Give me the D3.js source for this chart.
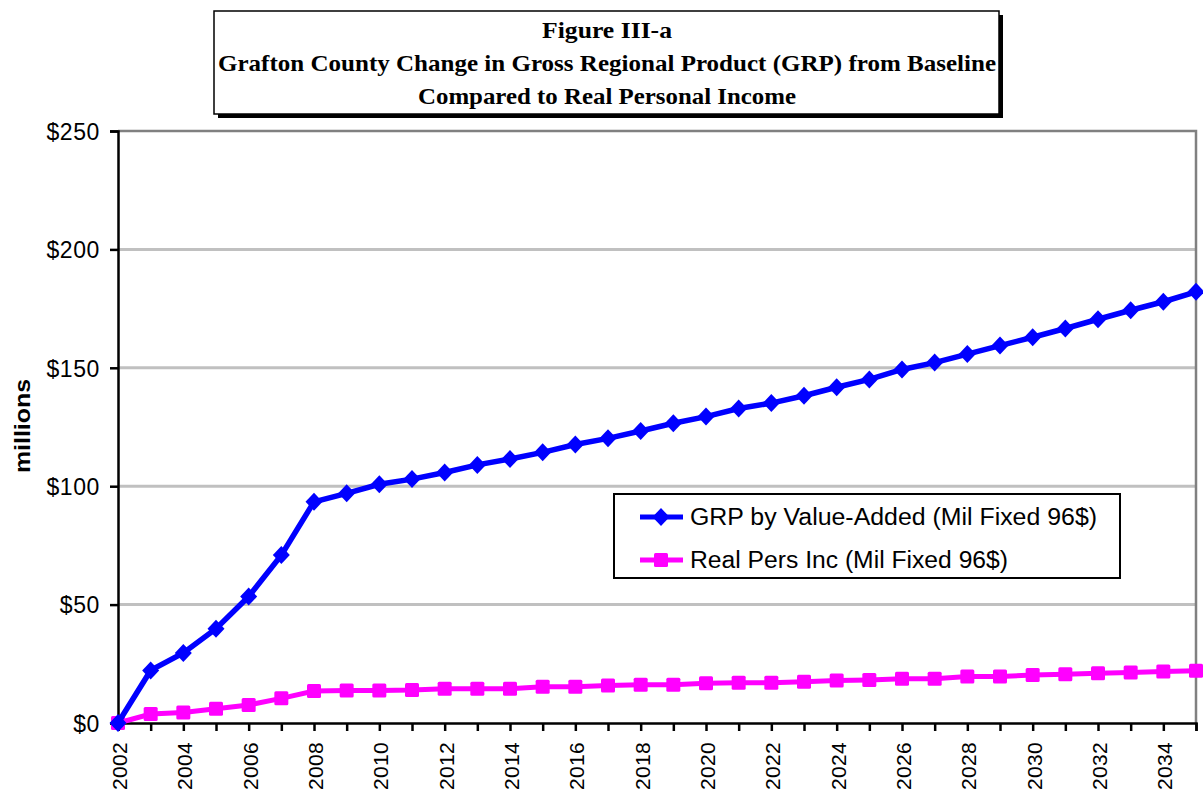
<!DOCTYPE html>
<html>
<head>
<meta charset="utf-8">
<script src="https://cdn.jsdelivr.net/npm/d3@7"></script>
<style>
  body { margin: 0; background: #fff; }
  svg { display: block; }
</style>
</head>
<body>
<svg id="chart" width="1203" height="793"></svg>
<script>
// data
var years = d3.range(2002, 2036);
var grp = [0, 22.2, 29.6, 39.8, 53.4, 70.9, 93.4, 97.0, 100.8, 103.0, 105.8, 109.0, 111.5, 114.3, 117.6, 120.2,
    123.3, 126.6, 129.4, 132.8, 135.1, 138.2, 141.8, 145.1, 149.3, 152.2, 155.8, 159.4, 162.9, 166.6, 170.5, 174.3, 177.9, 182.1];
var persInc = [0, 3.8, 4.4, 6.0, 7.6, 10.4, 13.5, 13.7, 13.7, 13.9, 14.5, 14.5, 14.5, 15.3, 15.3, 15.8,
    16.2, 16.2, 16.8, 17.0, 17.0, 17.4, 17.9, 18.2, 18.7, 18.7, 19.6, 19.6, 20.3, 20.6, 21.0, 21.3, 21.7, 22.1];
var yTicks = [0, 50, 100, 150, 200, 250];
var titleLines = ["Figure III-a",
    "Grafton County Change in Gross Regional Product (GRP) from Baseline",
    "Compared to Real Personal Income"];
var seriesNames = ["GRP by Value-Added (Mil Fixed 96$)", "Real Pers Inc (Mil Fixed 96$)"];

var svg = d3.select("#chart");
var plotLeft = 118, plotRight = 1196, plotTop = 131, plotBottom = 723;

var x = d3.scaleLinear().domain([2002, 2035]).range([plotLeft, plotRight]);
var y = d3.scaleLinear().domain([0, 250]).range([plotBottom, plotTop]);

// gridlines
svg.append("g")
    .selectAll("line")
    .data(yTicks.filter(function (d) { return d > 0 && d < 250; }))
    .enter()
    .append("line")
    .attr("x1", plotLeft)
    .attr("x2", plotRight)
    .attr("y1", function (d) { return y(d); })
    .attr("y2", function (d) { return y(d); })
    .attr("stroke", "#c0c0c0")
    .attr("stroke-width", 3);

// top and right border of plot area
svg.append("path")
    .attr("d", "M" + plotLeft + "," + y(250) + "H" + plotRight + "V" + plotBottom)
    .attr("fill", "none")
    .attr("stroke", "#808080")
    .attr("stroke-width", 2.5);

// y axis
var yAxis = d3.axisLeft(y)
    .tickValues(yTicks)
    .tickSize(8)
    .tickPadding(10)
    .tickFormat(function (d) { return "$" + d; });

var gy = svg.append("g")
    .attr("transform", "translate(" + plotLeft + ",0)")
    .call(yAxis);
gy.select(".domain").attr("stroke", "#000").attr("stroke-width", 2.5);
gy.selectAll(".tick line").attr("stroke", "#000").attr("stroke-width", 2.5);
gy.selectAll(".tick text")
    .attr("font-family", "Liberation Sans, Arial, sans-serif")
    .attr("font-size", 23)
    .attr("fill", "#000")
    .attr("dy", "0.36em")
    .attr("letter-spacing", 0.6);

// x axis
var xAxis = d3.axisBottom(x)
    .tickValues(years)
    .tickSize(8)
    .tickFormat(function (d) { return d % 2 == 0 ? d : ""; });

var gx = svg.append("g")
    .attr("transform", "translate(0," + plotBottom + ")")
    .call(xAxis);
gx.select(".domain").attr("stroke", "#000").attr("stroke-width", 2.5);
gx.selectAll(".tick line").attr("stroke", "#000").attr("stroke-width", 2.5);
gx.selectAll(".tick text")
    .attr("font-family", "Liberation Sans, Arial, sans-serif")
    .attr("font-size", 21)
    .attr("fill", "#000")
    .attr("text-anchor", "end")
    .attr("transform", "translate(1,19) rotate(-90)")
    .attr("x", 0)
    .attr("y", 0)
    .attr("dy", "0.36em")
    .attr("letter-spacing", 0.3);

// y axis title
svg.append("text")
    .attr("transform", "translate(30,426) rotate(-90)")
    .attr("text-anchor", "middle")
    .attr("font-family", "Liberation Sans, Arial, sans-serif")
    .attr("font-weight", "bold")
    .attr("font-size", 22)
    .attr("textLength", 94)
    .attr("lengthAdjust", "spacingAndGlyphs")
    .text("millions");

// series lines
var line = d3.line()
    .x(function (d, i) { return x(years[i]); })
    .y(function (d) { return y(d); });

svg.append("path")
    .datum(persInc)
    .attr("d", line)
    .attr("fill", "none")
    .attr("stroke", "#ff00ff")
    .attr("stroke-width", 5);

svg.append("g")
    .selectAll("rect")
    .data(persInc)
    .enter()
    .append("rect")
    .attr("x", function (d, i) { return x(years[i]) - 7; })
    .attr("y", function (d) { return y(d) - 7; })
    .attr("width", 14)
    .attr("height", 14)
    .attr("rx", 1.5)
    .attr("fill", "#ff00ff");

svg.append("path")
    .datum(grp)
    .attr("d", line)
    .attr("fill", "none")
    .attr("stroke", "#0000ff")
    .attr("stroke-width", 5.5);

var diamond = "M0,-9L8.5,0L0,9L-8.5,0Z";
svg.append("g")
    .selectAll("path")
    .data(grp)
    .enter()
    .append("path")
    .attr("d", diamond)
    .attr("transform", function (d, i) { return "translate(" + x(years[i]) + "," + y(d) + ")"; })
    .attr("fill", "#0000ff");

// legend
var legend = svg.append("g");
legend.append("rect")
    .attr("x", 614)
    .attr("y", 494)
    .attr("width", 506)
    .attr("height", 84)
    .attr("fill", "#fff")
    .attr("stroke", "#000")
    .attr("stroke-width", 2);

var colors = ["#0000ff", "#ff00ff"];
var legendWidths = [407, 318];
seriesNames.forEach(function (name, i) {
    var ly = 517 + 43 * i;
    legend.append("line")
        .attr("x1", 640)
        .attr("x2", 683)
        .attr("y1", ly)
        .attr("y2", ly)
        .attr("stroke", colors[i])
        .attr("stroke-width", 5);
    if (i == 0) {
        legend.append("path")
            .attr("d", diamond)
            .attr("transform", "translate(661," + ly + ")")
            .attr("fill", colors[i]);
    } else {
        legend.append("rect")
            .attr("x", 654)
            .attr("y", ly - 7)
            .attr("width", 14)
            .attr("height", 14)
            .attr("rx", 1.5)
            .attr("fill", colors[i]);
    }
    legend.append("text")
        .attr("x", 690)
        .attr("y", ly)
        .attr("dy", "0.36em")
        .attr("font-family", "Liberation Sans, Arial, sans-serif")
        .attr("font-size", 23)
        .attr("fill", "#000")
        .attr("textLength", legendWidths[i])
        .attr("lengthAdjust", "spacingAndGlyphs")
        .text(name);
});

// title box with shadow
var tb = svg.append("g");
tb.append("rect")
    .attr("x", 218)
    .attr("y", 15)
    .attr("width", 785)
    .attr("height", 103)
    .attr("fill", "#000");
tb.append("rect")
    .attr("x", 214)
    .attr("y", 11)
    .attr("width", 785)
    .attr("height", 103)
    .attr("fill", "#fff")
    .attr("stroke", "#000")
    .attr("stroke-width", 1.5);

var titleWidths = [130, 778, 378];
titleLines.forEach(function (t, i) {
    tb.append("text")
        .attr("x", 607)
        .attr("y", 30 + 33 * i)
        .attr("dy", "0.36em")
        .attr("text-anchor", "middle")
        .attr("font-family", "Liberation Serif, Times New Roman, serif")
        .attr("font-weight", "bold")
        .attr("font-size", 23)
        .attr("textLength", titleWidths[i])
        .attr("lengthAdjust", "spacingAndGlyphs")
        .text(t);
});
</script>
</body>
</html>
